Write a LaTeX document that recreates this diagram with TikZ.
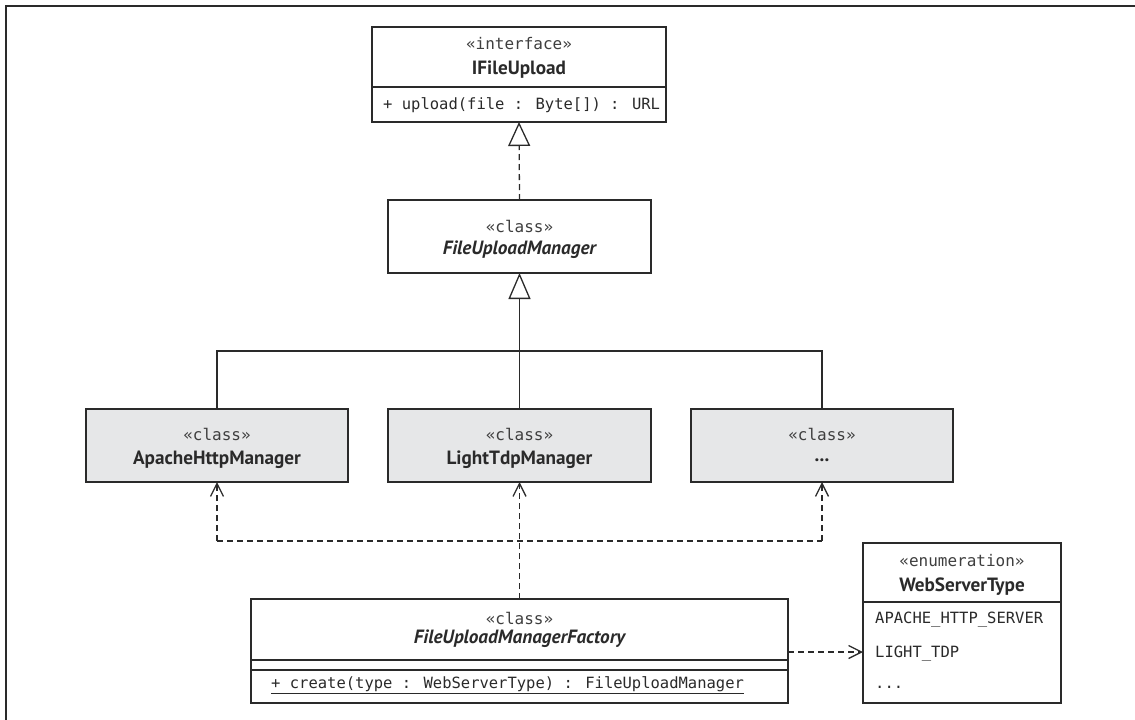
\documentclass[tikz,border=0pt]{standalone}
\usepackage{fontspec}
\setmainfont{PT Sans}
\newfontfamily\umlmono{DejaVu Sans Mono}
\usetikzlibrary{arrows.meta}
\definecolor{ink}{HTML}{2A2A2A}
\definecolor{boxgray}{HTML}{E6E7E8}
\tikzset{
  umlbox/.style={draw=ink, line width=2.6pt, fill=white, rectangle, inner sep=0pt, outer sep=0pt},
  graybox/.style={umlbox, fill=boxgray},
  stereo/.style={font=\umlmono\fontsize{16}{18}\selectfont, text=ink!90, inner sep=0pt},
  cname/.style={font=\bfseries\fontsize{19.2}{22}\selectfont, text=ink, inner sep=0pt},
  iname/.style={font=\bfseries\itshape\fontsize{19.2}{22}\selectfont, text=ink, inner sep=0pt},
  member/.style={font=\umlmono\fontsize{15.5}{18}\selectfont, text=ink, inner sep=0pt, anchor=west},
  conn/.style={draw=ink, line width=1.3pt},
  realize/.style={conn, dash pattern=on 6pt off 4pt,
    -{Triangle[open, length=24pt, width=22pt, line width=1.3pt]}},
  inherit/.style={conn, -{Triangle[open, length=26pt, width=22pt, line width=1.3pt]}},
  depend/.style={conn, dash pattern=on 6pt off 4pt,
    -{Straight Barb[length=13pt, width=13pt, line width=1.3pt]}},
  dashline/.style={conn, dash pattern=on 6pt off 4pt},
}
\begin{document}
\begin{tikzpicture}[x=1pt, y=-1pt]
\useasboundingbox (0,0) rectangle (1135,720);
\clip (0,0) rectangle (1135,720);
% outer frame
\draw[ink, line width=2pt] (6,6) rectangle (1150,740);

% interface IFileUpload
\node[umlbox, minimum width=294pt, minimum height=60pt] (ifuHead) at (519,57) {};
\node[umlbox, minimum width=294pt, minimum height=35pt, anchor=north] (ifuOps) at (ifuHead.south) {};
\node[stereo] (ifuSt) at (519,44) {«interface»};
\node[cname] (ifuName) at (519,70) {IFileUpload};
\node[member] (ifuOp) at (383,105) {+ upload(file : Byte[]) : URL};

% class FileUploadManager
\node[umlbox, minimum width=263pt, minimum height=73pt] (fum) at (519.5,236.5) {};
\node[stereo] (fumSt) at (519.5,226) {«class»};
\node[iname] (fumName) at (519.5,250) {FileUploadManager};

% concrete managers
\node[graybox, minimum width=262pt, minimum height=73pt] (apache) at (217,445.5) {};
\node[graybox, minimum width=263pt, minimum height=73pt] (light) at (519.5,445.5) {};
\node[graybox, minimum width=262pt, minimum height=73pt] (other) at (822,445.5) {};
\node[stereo] (apacheSt) at (217,434) {«class»};
\node[cname] (apacheName) at (217,460) {ApacheHttpManager};
\node[stereo] (lightSt) at (519.5,434) {«class»};
\node[cname] (lightName) at (519.5,460) {LightTdpManager};
\node[stereo] (otherSt) at (822,434) {«class»};
\node[cname] (otherName) at (822,460) {...};

% factory
\node[umlbox, minimum width=537pt, minimum height=61pt] (facHead) at (519.5,629.5) {};
\node[umlbox, minimum width=537pt, minimum height=10pt, anchor=north] (facAttr) at (facHead.south) {};
\node[umlbox, minimum width=537pt, minimum height=33pt, anchor=north] (facOps) at (facAttr.south) {};
\node[stereo] (facSt) at (519.5,618) {«class»};
\node[iname] (facName) at (519.5,639) {FileUploadManagerFactory};
\node[member] (facOp) at (271,685) {\underline{+ create(type : WebServerType) : FileUploadManager}};

% enumeration WebServerType
\node[umlbox, minimum width=198pt, minimum height=59pt] (enumHead) at (962,572.5) {};
\node[umlbox, minimum width=198pt, minimum height=101pt, anchor=north] (enumItems) at (enumHead.south) {};
\node[stereo] (enumSt) at (962,561) {«enumeration»};
\node[cname] (enumName) at (962,587) {WebServerType};
\node[member] (enumA) at (875,620) {APACHE\_HTTP\_SERVER};
\node[member] (enumB) at (875,654) {LIGHT\_TDP};
\node[member] (enumC) at (875,687) {...};

% realization
\draw[realize] (fum.north) -- (ifuOps.south);

% generalization tree
\coordinate (treeY) at (0,351);
\draw[inherit] (light.north) -- (fum.south);
\draw[conn] (apache.north) |- (light.north |- treeY) -| (other.north);

% dependencies of the factory
\coordinate (busY) at (0,541);
\draw[depend] (facHead.north) -- (light.south);
\draw[dashline] (apache.south |- busY) -- (other.south |- busY);
\draw[depend] (apache.south |- busY) -- (apache.south);
\draw[depend] (other.south |- busY) -- (other.south);
\coordinate (useY) at (0,652);
\draw[depend] (facHead.east |- useY) -- (enumItems.west |- useY);
\end{tikzpicture}
\end{document}
